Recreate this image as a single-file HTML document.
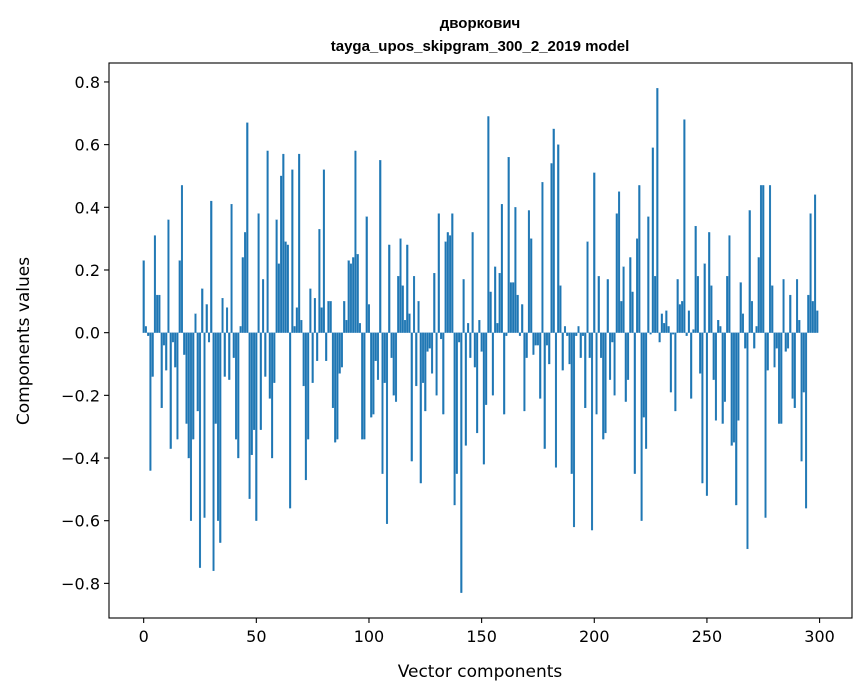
<!DOCTYPE html>
<html><head><meta charset="utf-8"><style>
body{margin:0;background:#fff}
svg{display:block;font-family:"DejaVu Sans","Liberation Sans",sans-serif}
</style></head><body>
<svg id="chart" width="867" height="696" viewBox="0 0 867 696" xmlns="http://www.w3.org/2000/svg">
<rect width="867" height="696" fill="#fff"/>
<text x="480" y="28" text-anchor="middle" font-size="15" font-weight="bold" font-family="Liberation Sans, DejaVu Sans, sans-serif">дворкович</text>
<text x="480" y="51" text-anchor="middle" font-size="15" font-weight="bold" font-family="Liberation Sans, DejaVu Sans, sans-serif">tayga_upos_skipgram_300_2_2019 model</text>
<g id="bars"></g>
<g id="axes"></g>
<text x="480" y="677" text-anchor="middle" font-size="17">Vector components</text>
<text transform="translate(29,341) rotate(-90)" text-anchor="middle" font-size="17">Components values</text>
</svg>
<script>
const values = [0.23,0.02,-0.01,-0.44,-0.14,0.31,0.12,0.12,-0.24,-0.04,
-0.12,0.36,-0.37,-0.03,-0.11,-0.34,0.23,0.47,-0.07,-0.29,
-0.40,-0.60,-0.34,0.06,-0.25,-0.75,0.14,-0.59,0.09,-0.03,
0.42,-0.76,-0.29,-0.60,-0.67,0.11,-0.14,0.08,-0.15,0.41,
-0.08,-0.34,-0.40,0.02,0.24,0.32,0.67,-0.53,-0.39,-0.31,
-0.60,0.38,-0.31,0.17,-0.14,0.58,-0.21,-0.40,-0.16,0.36,
0.22,0.50,0.57,0.29,0.28,-0.56,0.52,0.02,0.08,0.57,
0.04,-0.17,-0.47,-0.34,0.14,-0.16,0.11,-0.09,0.33,0.08,
0.52,-0.09,0.10,0.10,-0.24,-0.35,-0.34,-0.13,-0.11,0.10,
0.04,0.23,0.22,0.24,0.58,0.25,0.03,-0.34,-0.34,0.37,
0.09,-0.27,-0.26,-0.09,-0.15,0.55,-0.45,-0.16,-0.61,0.28,
-0.08,-0.20,-0.22,0.18,0.30,0.15,0.04,0.28,0.06,-0.41,
0.18,-0.17,0.10,-0.48,-0.16,-0.25,-0.06,-0.05,-0.13,0.19,
-0.20,0.38,-0.02,-0.26,0.29,0.32,0.31,0.38,-0.55,-0.45,
-0.03,-0.83,0.17,-0.36,0.03,-0.08,0.32,-0.11,-0.32,0.04,
-0.06,-0.42,-0.23,0.69,0.13,-0.20,0.21,0.03,0.19,0.41,
-0.26,-0.01,0.56,0.16,0.16,0.40,0.12,-0.01,0.09,-0.25,
-0.08,0.39,0.30,-0.07,-0.04,-0.04,-0.21,0.48,-0.37,-0.04,
-0.10,0.54,0.65,-0.43,0.60,0.15,-0.12,0.02,-0.01,-0.10,
-0.45,-0.62,-0.01,0.02,-0.08,-0.01,-0.24,0.29,-0.08,-0.63,
0.51,-0.26,0.18,-0.08,-0.34,-0.32,0.17,-0.15,-0.03,-0.20,
0.38,0.45,0.10,0.21,-0.22,-0.15,0.24,0.13,-0.45,0.30,
0.47,-0.60,-0.27,-0.37,0.37,-0.005,0.59,0.18,0.78,-0.03,
0.06,0.03,0.07,0.02,-0.19,-0.005,-0.25,0.17,0.09,0.10,
0.68,-0.01,0.07,-0.21,0.01,0.34,0.18,-0.13,-0.48,0.22,
-0.52,0.32,0.15,-0.15,-0.28,0.04,0.02,-0.29,-0.22,0.18,
0.31,-0.36,-0.35,-0.55,-0.28,0.16,0.06,-0.05,-0.69,0.39,
0.10,-0.05,0.02,0.24,0.47,0.47,-0.59,-0.12,0.47,0.15,
-0.11,-0.05,-0.29,-0.29,0.17,-0.06,-0.05,0.12,-0.21,-0.24,
0.17,0.04,-0.41,-0.19,-0.56,0.12,0.38,0.10,0.44,0.07];
const xTicks = [0,50,100,150,200,250,300];
const yTicks = [-0.8,-0.6,-0.4,-0.2,0.0,0.2,0.4,0.6,0.8];
const yTickLabels = ["\u22120.8","\u22120.6","\u22120.4","\u22120.2","0.0","0.2","0.4","0.6","0.8"];

const NS="http://www.w3.org/2000/svg";
const L=109,R=852,T=63,B=618;
const n=values.length;
const xmin0=-0.4, xmax0=n-1+0.4, xm=(xmax0-xmin0)*0.05;
const xmin=xmin0-xm, xmax=xmax0+xm;
const vmax=Math.max(0,...values), vmin=Math.min(0,...values), ym=(vmax-vmin)*0.05;
const ymin=vmin-ym, ymax=vmax+ym;
const sx=v=>L+(v-xmin)/(xmax-xmin)*(R-L);
const sy=v=>B-(v-ymin)/(ymax-ymin)*(B-T);
function mk(tag,attrs,parent){const e=document.createElementNS(NS,tag);for(const k in attrs)e.setAttribute(k,attrs[k]);parent.appendChild(e);return e;}
const bars=document.getElementById('bars');
values.forEach((v,i)=>{
  const x0=sx(i-0.4), x1=sx(i+0.4), y0=sy(0), y1=sy(v);
  const r=mk('rect',{x:x0,y:Math.min(y0,y1),width:x1-x0,height:Math.max(Math.abs(y1-y0),0.3),fill:'#1f77b4',stroke:'#1f77b4','stroke-width':0.25},bars);
  
  
});
const ax=document.getElementById('axes');
const frame=mk('rect',{x:L,y:T,width:R-L,height:B-T,fill:'none',stroke:'#000','stroke-width':1.1},ax);


xTicks.forEach(t=>{
  const x=sx(t);
  const ln=mk('line',{x1:x,x2:x,y1:B,y2:B+5,stroke:'#000','stroke-width':1.1},ax);
  
  
  const tx=mk('text',{x:x,y:B+24,'text-anchor':'middle','font-size':16},ax);
  tx.textContent=String(t);
  
  
});
yTicks.forEach((t,i)=>{
  const y=sy(t);
  const ln=mk('line',{x1:L-5,x2:L,y1:y,y2:y,stroke:'#000','stroke-width':1.1},ax);
  
  
  const tx=mk('text',{x:L-9,y:y+6,'text-anchor':'end','font-size':16},ax);
  tx.textContent=yTickLabels[i];
  
  
});
</script>
</body></html>
